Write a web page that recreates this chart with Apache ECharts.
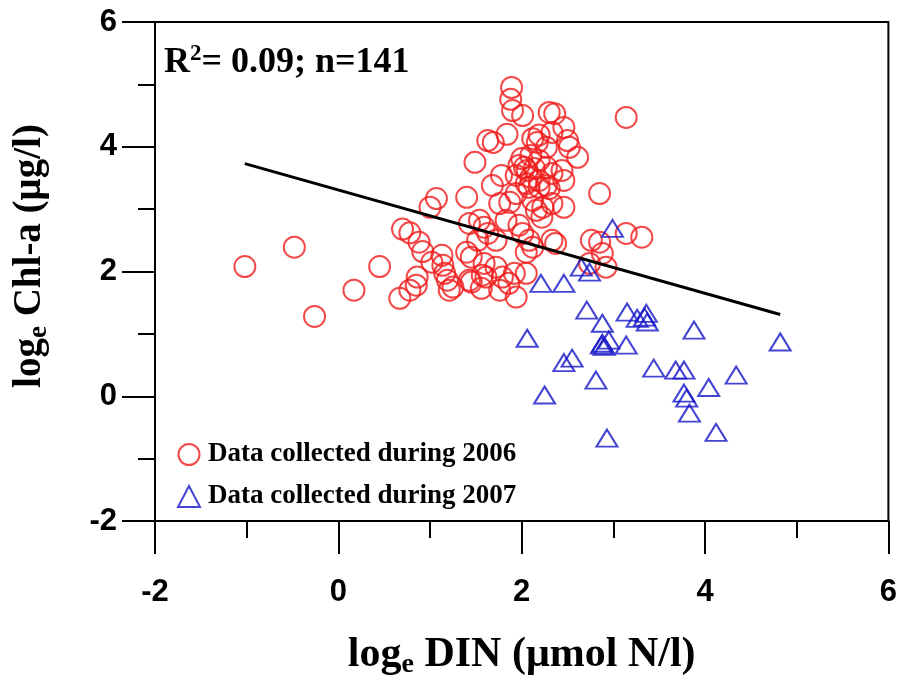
<!DOCTYPE html>
<html>
<head>
<meta charset="utf-8">
<script src="https://cdn.jsdelivr.net/npm/echarts@6/dist/echarts.min.js"></script>
<style>
  html, body { margin: 0; padding: 0; background: #fff; }
  #chart { width: 900px; height: 685px; }
</style>
</head>
<body>
<div id="chart"></div>
<script>
// loge DIN (x), loge Chl-a (y)
const data2006 = [
  [-1.02, 2.08], [-0.48, 2.39], [-0.26, 1.28], [0.17, 1.70], [0.45, 2.08],
  [0.67, 1.57], [0.70, 2.68], [0.78, 2.62], [0.78, 1.70], [0.85, 1.78],
  [0.86, 1.91], [0.88, 2.47], [0.92, 2.32], [1.02, 2.15], [1.00, 3.03],
  [1.07, 3.17], [1.13, 2.26], [1.14, 2.10], [1.16, 1.97], [1.19, 1.86],
  [1.21, 1.70], [1.25, 1.75], [1.40, 3.19], [1.40, 2.31], [1.43, 2.77],
  [1.43, 1.86], [1.45, 2.23], [1.45, 1.83], [1.49, 3.75], [1.54, 2.82],
  [1.52, 2.50], [1.56, 1.73], [1.57, 1.94], [1.59, 2.71], [1.59, 2.13],
  [1.63, 4.10], [1.63, 2.61], [1.61, 1.91], [1.68, 3.38], [1.69, 4.07],
  [1.72, 2.50], [1.72, 2.07], [1.76, 3.09], [1.76, 1.70], [1.78, 3.54],
  [1.79, 1.91], [1.83, 2.82], [1.84, 4.20], [1.86, 1.81], [1.87, 3.11],
  [1.89, 4.95], [1.88, 4.76], [1.90, 4.58], [1.92, 1.97], [1.94, 3.25],
  [1.94, 3.54], [1.94, 1.59], [1.97, 3.70], [1.97, 2.74], [2.00, 3.81],
  [2.01, 4.50], [2.01, 2.61], [2.03, 3.67], [2.05, 3.41], [2.05, 2.31],
  [2.05, 1.97], [2.06, 3.62], [2.08, 3.35], [2.08, 2.50], [2.10, 3.86],
  [2.10, 3.51], [2.12, 4.13], [2.12, 3.14], [2.12, 2.39], [2.14, 3.65],
  [2.16, 2.98], [2.17, 4.07], [2.19, 4.19], [2.19, 3.78], [2.19, 3.46],
  [2.19, 3.35], [2.22, 2.87], [2.23, 3.03], [2.27, 3.99], [2.27, 3.67],
  [2.27, 3.38], [2.30, 4.55], [2.30, 3.33], [2.33, 4.23], [2.33, 3.57],
  [2.33, 3.09], [2.33, 2.50], [2.36, 4.53], [2.37, 2.45], [2.44, 3.62],
  [2.46, 4.31], [2.46, 3.46], [2.46, 3.03], [2.50, 4.10], [2.52, 3.99],
  [2.61, 3.83], [2.74, 2.13], [2.76, 2.50], [2.85, 3.25], [2.85, 2.47],
  [2.88, 2.29], [2.92, 2.07], [3.14, 4.47], [3.14, 2.61], [3.31, 2.55]
];

const data2007 = [
  [2.06, 0.93], [2.21, 1.81], [2.25, 0.02], [2.46, 1.81], [2.46, 0.54],
  [2.55, 0.61], [2.65, 2.07], [2.71, 1.38], [2.74, 1.99], [2.81, 0.26],
  [2.87, 0.82], [2.88, 0.85], [2.90, 0.80], [2.88, 1.17], [2.93, -0.67],
  [2.95, 0.90], [2.99, 2.69], [3.14, 0.82], [3.15, 1.35], [3.26, 1.25],
  [3.34, 1.27], [3.37, 1.19], [3.36, 1.33], [3.44, 0.45], [3.68, 0.42],
  [3.77, 0.42], [3.77, 0.05], [3.80, -0.03], [3.83, -0.27], [3.88, 1.06],
  [4.04, 0.14], [4.12, -0.58], [4.34, 0.34], [4.82, 0.87]
];

// fitted regression line end points
const fitLine = [[-1.02, 3.73], [4.82, 1.31]];

const xTicks = { min: -2, max: 6, interval: 2 };
const yTicks = { min: -2, max: 6, interval: 2 };

const RED = '#f01c1c';
const BLUE = '#1616c8';
const sans = '"Liberation Sans", Arial, sans-serif';
const serif = '"Liberation Serif", "Times New Roman", serif';

const chart = echarts.init(document.getElementById('chart'));

const titleRich = {
  m: { fontFamily: serif, fontWeight: 'bold', fontSize: 42, lineHeight: 46, color: '#000', fill: '#000' },
  sub: { fontFamily: serif, fontWeight: 'bold', fontSize: 28, lineHeight: 28, padding: [19, 0, 0, 0], color: '#000', fill: '#000' }
};

const axisCommon = {
  type: 'value',
  splitLine: { show: false },
  axisLine: { show: true, onZero: false, lineStyle: { color: '#000', width: 2 } },
  axisTick: { show: true, inside: false, length: 33, lineStyle: { color: '#000', width: 2 } },
  minorTick: { show: true, splitNumber: 2, length: 17, lineStyle: { color: '#000', width: 2 } },
  axisLabel: { color: '#000', fontFamily: sans, fontWeight: 'bold', fontSize: 31 }
};

const option = {
  animation: false,
  backgroundColor: '#fff',
  grid: {
    left: 155, right: 10, top: 22, bottom: 164,
    show: true, borderColor: '#000', borderWidth: 2, backgroundColor: 'transparent'
  },
  xAxis: Object.assign({}, axisCommon, {
    min: xTicks.min, max: xTicks.max, interval: xTicks.interval,
    axisLabel: Object.assign({}, axisCommon.axisLabel, { margin: 56 }),
    name: '{m|log}{sub|e}{m| DIN (μmol N/l)}',
    nameLocation: 'middle',
    nameGap: 111,
    nameTextStyle: { rich: titleRich }
  }),
  yAxis: Object.assign({}, axisCommon, {
    min: yTicks.min, max: yTicks.max, interval: yTicks.interval,
    axisLabel: Object.assign({}, axisCommon.axisLabel, { margin: 38 })
  }),
  legend: {
    orient: 'vertical',
    left: 172,
    top: 436,
    itemWidth: 22,
    itemHeight: 21,
    itemGap: 15,
    data: ['Data collected during 2006', 'Data collected during 2007'],
    textStyle: {
      color: '#000', fontFamily: serif, fontWeight: 'bold', fontSize: 27,
      padding: [0, 0, 0, 3]
    }
  },
  graphic: [
    {
      type: 'text',
      left: 164,
      top: 43,
      style: {
        text: '{a|R}{s|2}{a|= 0.09; n=141}',
        rich: {
          a: { fontFamily: serif, fontWeight: 'bold', fontSize: 36, lineHeight: 40, fill: '#000' },
          s: { fontFamily: serif, fontWeight: 'bold', fontSize: 23, lineHeight: 23, padding: [0, 0, 16, 0], fill: '#000' }
        }
      }
    },
    {
      type: 'text',
      x: 30,
      y: 256,
      rotation: Math.PI / 2,
      style: {
        text: '{m|log}{sub|e}{m| Chl-a (μg/l)}',
        align: 'center',
        verticalAlign: 'middle',
        rich: {
          m: { fontFamily: serif, fontWeight: 'bold', fontSize: 39, lineHeight: 44, fill: '#000' },
          sub: { fontFamily: serif, fontWeight: 'bold', fontSize: 27, lineHeight: 27, padding: [18, 0, 0, 0], fill: '#000' }
        }
      }
    }
  ],
  series: [
    {
      name: 'Data collected during 2006',
      type: 'scatter',
      data: data2006,
      symbol: 'circle',
      symbolSize: 21,
      itemStyle: { color: 'rgba(0,0,0,0)', borderColor: RED, borderWidth: 2 }
    },
    {
      name: 'Data collected during 2007',
      type: 'scatter',
      data: data2007,
      symbol: 'triangle',
      symbolSize: [21, 17],
      itemStyle: { color: 'rgba(0,0,0,0)', borderColor: BLUE, borderWidth: 2 }
    },
    {
      name: 'fit',
      type: 'line',
      data: fitLine,
      showSymbol: false,
      symbol: 'none',
      lineStyle: { color: '#000', width: 3 },
      z: 5
    }
  ]
};

chart.setOption(option);
</script>
</body>
</html>
